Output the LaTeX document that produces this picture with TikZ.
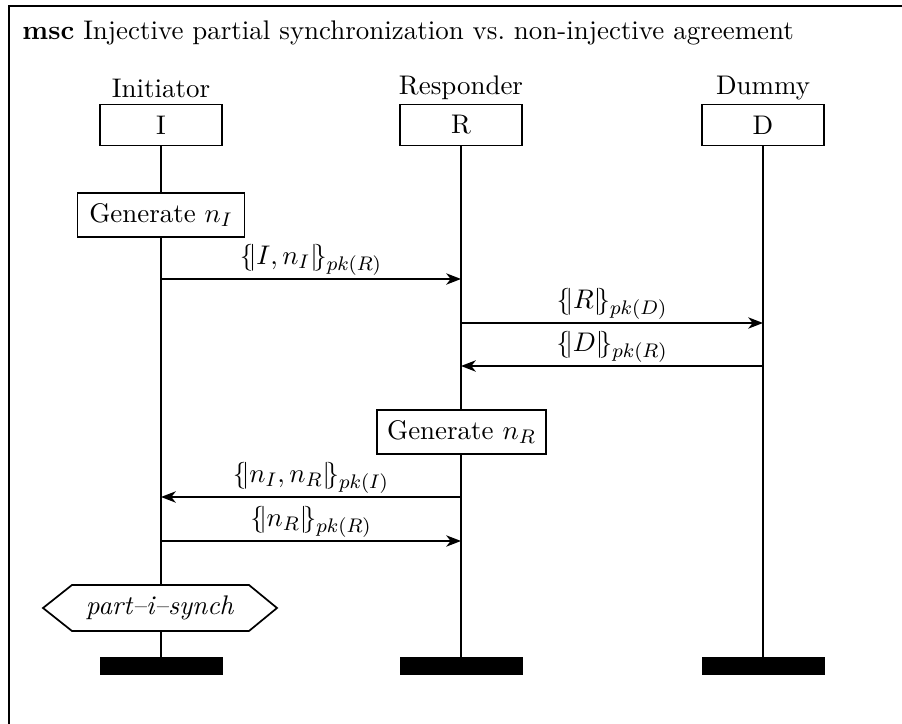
\documentclass[tikz,border=0pt]{standalone}
\usepackage{amsmath}
\usetikzlibrary{arrows.meta}
\newcommand{\encL}{\{\!|}
\newcommand{\encR}{|\!\}}
\begin{document}
\begin{tikzpicture}[x=0.4065pt,y=-0.4065pt,
  every node/.style={font=\fontsize{10.95pt}{13.6pt}\selectfont},
  frame/.style={line width=0.8pt},
  instbox/.style={draw,line width=0.7pt,minimum width=49.6pt,minimum height=16.7pt,inner sep=0pt,fill=white},
  instlabel/.style={inner sep=0pt},
  endbar/.style={fill=black,draw=black,line width=0.3pt,minimum width=49.6pt,minimum height=6.9pt,inner sep=0pt},
  lifeline/.style={line width=0.7pt},
  action/.style={draw,line width=0.7pt,fill=white,minimum height=17.9pt,inner sep=0pt},
  msg/.style={line width=0.7pt,-{Stealth[length=6pt,width=4.6pt,inset=1.8pt]}},
  msglabel/.style={above,inner sep=1.2pt},
  cond/.style={draw,line width=0.7pt,fill=white}
]
\useasboundingbox (0,0) rectangle (902,724);
\clip (0,0) rectangle (902,724);
\draw[frame] (9,6) rectangle (940,760);
\node[anchor=west,inner sep=0pt] (title) at (22,33) {\textbf{msc} Injective partial synchronization vs.\ non-injective agreement};

% instance labels
\node[instlabel] (Il) at (161,88) {Initiator};
\node[instlabel] (Rl) at (461,88) {Responder};
\node[instlabel] (Dl) at (763,88) {Dummy};

% header boxes
\node[instbox] (I) at (161,125) {I};
\node[instbox] (R) at (461,125) {R};
\node[instbox] (D) at (763,125) {D};

% end bars
\node[endbar] (Ie) at (161,665.5) {};
\node[endbar] (Re) at (461,665.5) {};
\node[endbar] (De) at (763,665.5) {};

% lifelines
\draw[lifeline] (I.south) -- (Ie.north);
\draw[lifeline] (R.south) -- (Re.north);
\draw[lifeline] (D.south) -- (De.north);

% actions
\node[action,minimum width=67.9pt] (gI) at (161,215) {Generate $n_I$};
\node[action,minimum width=68.7pt] (gR) at (461.5,432) {Generate $n_R$};

% messages
\coordinate (m1s) at (161,279); \coordinate (m1e) at (461,279);
\coordinate (m2s) at (461,323); \coordinate (m2e) at (763,323);
\coordinate (m3s) at (763,366); \coordinate (m3e) at (461,366);
\coordinate (m4s) at (461,497); \coordinate (m4e) at (161,497);
\coordinate (m5s) at (161,541); \coordinate (m5e) at (461,541);
\draw[msg] (m1s) -- node[msglabel] {$\encL I,n_I\encR_{pk(R)}$} (m1e);
\draw[msg] (m2s) -- node[msglabel] {$\encL R\encR_{pk(D)}$} (m2e);
\draw[msg] (m3s) -- node[msglabel] {$\encL D\encR_{pk(R)}$} (m3e);
\draw[msg] (m4s) -- node[msglabel] {$\encL n_I,n_R\encR_{pk(I)}$} (m4e);
\draw[msg] (m5s) -- node[msglabel] {$\encL n_R\encR_{pk(R)}$} (m5e);

% condition
\coordinate (c1) at (43,608); \coordinate (c2) at (72,585); \coordinate (c3) at (249,585);
\coordinate (c4) at (277,608); \coordinate (c5) at (249,631); \coordinate (c6) at (72,631);
\draw[cond] (c1) -- (c2) -- (c3) -- (c4) -- (c5) -- (c6) -- cycle;
\node (condtext) at (160,608) {\textit{part--i--synch}};
\end{tikzpicture}
\end{document}
